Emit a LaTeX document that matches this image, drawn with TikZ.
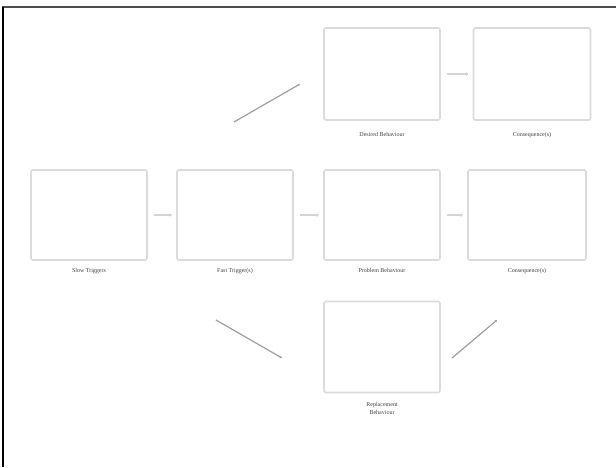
\documentclass[tikz,border=0pt]{standalone}
\usepackage{fontspec}
\setmainfont{Liberation Serif}
\usetikzlibrary{arrows.meta,positioning}

\tikzset{
  stage/.style={draw=black!14, line width=1.6pt, rounded corners=2pt,
    minimum width=116pt, minimum height=90pt, inner sep=0pt},
  caption/.style={text=black!75, font=\fontsize{6}{7}\selectfont,
    inner sep=0pt, align=center},
  flow/.style={draw=black!17, line width=2.2pt, -{Latex[length=2.5pt,width=4pt]},
    shorten <=6pt, shorten >=4pt},
  link/.style={draw=black!38, line width=1.2pt, -{Latex[length=2pt,width=3pt]}}
}

\begin{document}
\begin{tikzpicture}[x=1pt,y=-1pt]
\useasboundingbox (0,0) rectangle (616,467);

% frame (only top and left edges visible)
\draw[black!70, line width=2pt] (2,7) -- (616,7);
\draw[black, line width=1.6pt] (3,7) -- (3,467);

% middle row
\node[stage] (slow) at (89,215) {};
\node[stage] (fast) at (235,215) {};
\node[stage] (prob) at (382,215) {};
\node[stage, minimum width=118pt] (cons) at (527,215) {};

% top row
\node[stage, minimum height=92pt] (des) at (382,74) {};
\node[stage, minimum height=92pt, minimum width=117pt] (desc) at (532,74) {};

% bottom
\node[stage, minimum height=91pt] (repl) at (382,347) {};

% captions
\node[caption, below=7pt of slow] (slowt) {Slow Triggers};
\node[caption, below=7pt of fast] (fastt) {Fast Trigger(s)};
\node[caption, below=7pt of prob] (probt) {Problem Behaviour};
\node[caption, below=7pt of cons] (const) {Consequence(s)};
\node[caption, below=11pt of des] (dest) {Desired Behaviour};
\node[caption, below=11pt of desc] (desct) {Consequence(s)};
\node[caption, below=9pt of repl, text width=40pt] (replt) {Replacement\\[1pt]Behaviour};

% flow arrows
\draw[flow] (slow) -- (fast);
\draw[flow] (fast) -- (prob);
\draw[flow] (prob) -- (cons);
\draw[flow] (des) -- (desc);

% alternative paths
\coordinate (up1) at (234,122);
\coordinate (up2) at (300,84);
\coordinate (dn1) at (216,320);
\coordinate (dn2) at (282,358);
\coordinate (rt1) at (452,358);
\coordinate (rt2) at (497,320);
\draw[link] (up1) -- (up2);
\draw[link] (dn1) -- (dn2);
\draw[link] (rt1) -- (rt2);
\end{tikzpicture}
\end{document}
